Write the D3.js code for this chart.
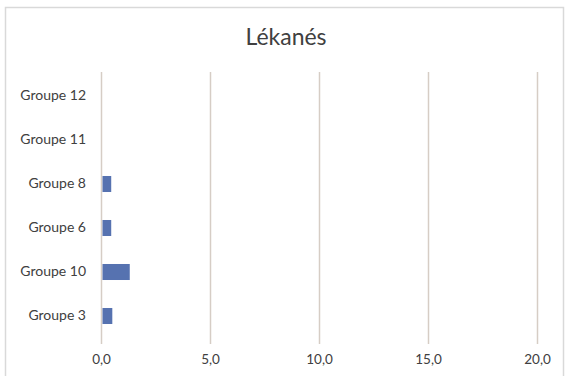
<!DOCTYPE html>
<html><head><meta charset="utf-8">
<script src="https://cdn.jsdelivr.net/npm/d3@7"></script>
<style>
html,body{margin:0;padding:0;background:#fff;}
svg{display:block;}
text{font-family:Lato,"Open Sans",sans-serif;fill:#404040;}
</style></head>
<body>
<svg id="chart" width="566" height="376"></svg>
<script>
const categories = ["Groupe 12","Groupe 11","Groupe 8","Groupe 6","Groupe 10","Groupe 3"];
const values = [0, 0, 0.4, 0.4, 1.25, 0.45];
const xTicks = [0, 5, 10, 15, 20];
const title = "Lékanés";

const svg = d3.select("#chart");
const W = 566, H = 376;

svg.append("rect").attr("x",5.5).attr("y",7.5).attr("width",W-8).attr("height",H-4)
  .attr("fill","#fff").attr("stroke","#d9d9d9").attr("stroke-width",1.5);

svg.append("text").attr("x",286).attr("y",45).attr("text-anchor","middle")
  .style("font-size","23px").text(title);

const x = d3.scaleLinear().domain([0,20]).range([101,537]);
const y = d3.scaleBand().domain(categories).range([74,338]).paddingInner(0.636).paddingOuter(0.318);

// gridlines
svg.append("g").selectAll("line").data(xTicks).join("line")
  .attr("x1",d=>Math.round(x(d))+0.5).attr("x2",d=>Math.round(x(d))+0.5)
  .attr("y1",72).attr("y2",344)
  .attr("stroke","#d6cdc5").attr("stroke-width",1.5);

// x axis labels
const xAxis = d3.axisBottom(x).tickValues(xTicks).tickSize(0).tickPadding(0)
  .tickFormat(d => d3.format(".1f")(d).replace(".", ","));
const gx = svg.append("g").attr("transform","translate(0,354)").call(xAxis);
gx.select(".domain").remove();
gx.selectAll("text").style("font-size","13.5px").style("font-family","Lato,'Open Sans',sans-serif").attr("fill","#404040");

// y axis labels
const yAxis = d3.axisLeft(y).tickSize(0).tickPadding(0);
const gy = svg.append("g").attr("transform","translate(86,0)").call(yAxis);
gy.select(".domain").remove();
gy.selectAll("text").style("font-size","14px").style("font-family","Lato,'Open Sans',sans-serif").attr("fill","#404040");

// bars
svg.append("g").selectAll("rect").data(categories).join("rect")
  .attr("x", x(0)+1.5)
  .attr("y", d => y(d))
  .attr("width", (d,i) => Math.max(0, x(values[i]) - x(0)))
  .attr("height", y.bandwidth())
  .attr("fill","#5672b0");
</script>
</body></html>
